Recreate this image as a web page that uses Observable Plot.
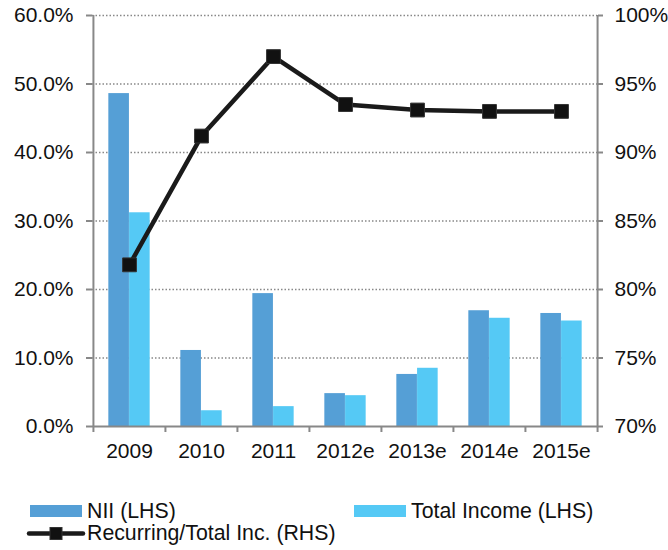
<!DOCTYPE html>
<html><head><meta charset="utf-8">
<script src="https://cdn.jsdelivr.net/npm/d3@7"></script>
<script src="https://cdn.jsdelivr.net/npm/@observablehq/plot@0.6"></script>
<style>
body{margin:0;background:#fff;font-family:"Liberation Sans",Arial,sans-serif;}
#wrap{position:relative;width:668px;height:550px;overflow:hidden;}
#chart{position:absolute;left:0;top:0;}
.sw{position:absolute;}
.lt{position:absolute;font-size:21.3px;line-height:24px;color:#111;white-space:nowrap;}
</style></head><body>
<div id="wrap">
  <div id="chart"></div>
  <div class="sw" id="sw1" style="left:30px;top:505px;width:52px;height:12px;"></div>
  <div class="lt" id="lt1" style="left:87px;top:499px;"></div>
  <div class="sw" id="sw2" style="left:354px;top:505px;width:52px;height:12px;"></div>
  <div class="lt" id="lt2" style="left:411px;top:499px;"></div>
  <svg class="sw" style="left:26px;top:526px;" width="60" height="15">
    <line x1="3" x2="57" y1="7.5" y2="7.5" stroke="#1a1a1a" stroke-width="4.5" stroke-linecap="round"/>
    <rect x="24" y="1.5" width="12" height="12" fill="#111" stroke="#333"/>
  </svg>
  <div class="lt" id="lt3" style="left:87px;top:521px;"></div>
</div>
<script>
const years = ["2009", "2010", "2011", "2012e", "2013e", "2014e", "2015e"];
const nii = [48.6, 11.1, 19.4, 4.8, 7.6, 16.9, 16.5];
const totalIncome = [31.2, 2.3, 2.9, 4.5, 8.5, 15.8, 15.4];
const recurring = [81.8, 91.2, 97.0, 93.5, 93.1, 93.0, 93.0];
const leftTicks = [0, 10, 20, 30, 40, 50, 60];
const rightTicks = [70, 75, 80, 85, 90, 95, 100];
const seriesNames = ["NII (LHS)", "Total Income (LHS)", "Recurring/Total Inc. (RHS)"];
const colors = ["#559fd6", "#55c9f5", "#1a1a1a"];

const rows = years.map((y, i) => ({year: y, nii: nii[i], ti: totalIncome[i], rec: recurring[i]}));
// map right-axis domain [70,100] onto left-axis domain [0,60]
const r0 = rightTicks[0], r1 = rightTicks[rightTicks.length - 1];
const l0 = leftTicks[0], l1 = leftTicks[leftTicks.length - 1];
const toLeft = v => l0 + (v - r0) / (r1 - r0) * (l1 - l0);

const W = 668, ML = 92, MR = 71;
const half = (W - ML - MR) / years.length / 2;
const font = "Liberation Sans, Arial, sans-serif";
const FS = 21;

const chart = Plot.plot({
  width: W, height: 480,
  marginLeft: ML, marginRight: MR, marginTop: 15, marginBottom: 54,
  style: {fontFamily: font, fontSize: FS + "px", color: "#111", background: "#fff"},
  x: {domain: years, padding: 0, label: null},
  y: {domain: [l0, l1], label: null},
  marks: [
    Plot.gridY(leftTicks.slice(1), {stroke: "#888", strokeOpacity: 1, strokeWidth: 1.3, strokeDasharray: "1.5,2"}),
    Plot.barY(rows, {x: "year", y: "nii", fill: colors[0], insetLeft: half * 0.425, insetRight: half}),
    Plot.barY(rows, {x: "year", y: "ti", fill: colors[1], insetLeft: half, insetRight: half * 0.425}),
    Plot.ruleY([l0], {stroke: "#888", strokeWidth: 2}),
    Plot.ruleX([years[0]], {x: d => d, y1: l0, y2: l1, dx: -half, stroke: "#888", strokeWidth: 2}),
    Plot.ruleX([years[years.length - 1]], {x: d => d, y1: l0, y2: l1, dx: half, stroke: "#888", strokeWidth: 2}),
    Plot.axisY(leftTicks, {anchor: "left", tickSize: 6, tickPadding: 13, stroke: "#888", strokeWidth: 2, fill: "#111", fontSize: FS, tickFormat: d => d.toFixed(1) + "%", label: null}),
    Plot.axisY(leftTicks, {anchor: "right", tickSize: 5, tickPadding: 12, stroke: "#888", strokeWidth: 2, fill: "#111", fontSize: FS, tickFormat: d => rightTicks[leftTicks.indexOf(d)] + "%", label: null}),
    Plot.axisX(years, {tickSize: 6, dx: -half, stroke: "#888", strokeWidth: 2, tickFormat: () => "", label: null}),
    Plot.axisX([years[years.length - 1]], {tickSize: 6, dx: half, stroke: "#888", strokeWidth: 2, tickFormat: () => "", label: null}),
    Plot.axisX(years, {tickSize: 0, tickPadding: 17, fill: "#111", fontSize: FS, label: null}),
    Plot.line(rows, {x: "year", y: d => toLeft(d.rec), stroke: colors[2], strokeWidth: 4.5}),
    Plot.dot(rows, {x: "year", y: d => toLeft(d.rec), symbol: "square", r: 7.8, fill: "#111", stroke: "#333", strokeWidth: 1})
  ]
});
document.getElementById("chart").appendChild(chart);
document.getElementById("sw1").style.background = colors[0];
document.getElementById("sw2").style.background = colors[1];
document.getElementById("lt1").textContent = seriesNames[0];
document.getElementById("lt2").textContent = seriesNames[1];
document.getElementById("lt3").textContent = seriesNames[2];
</script>
</body></html>
